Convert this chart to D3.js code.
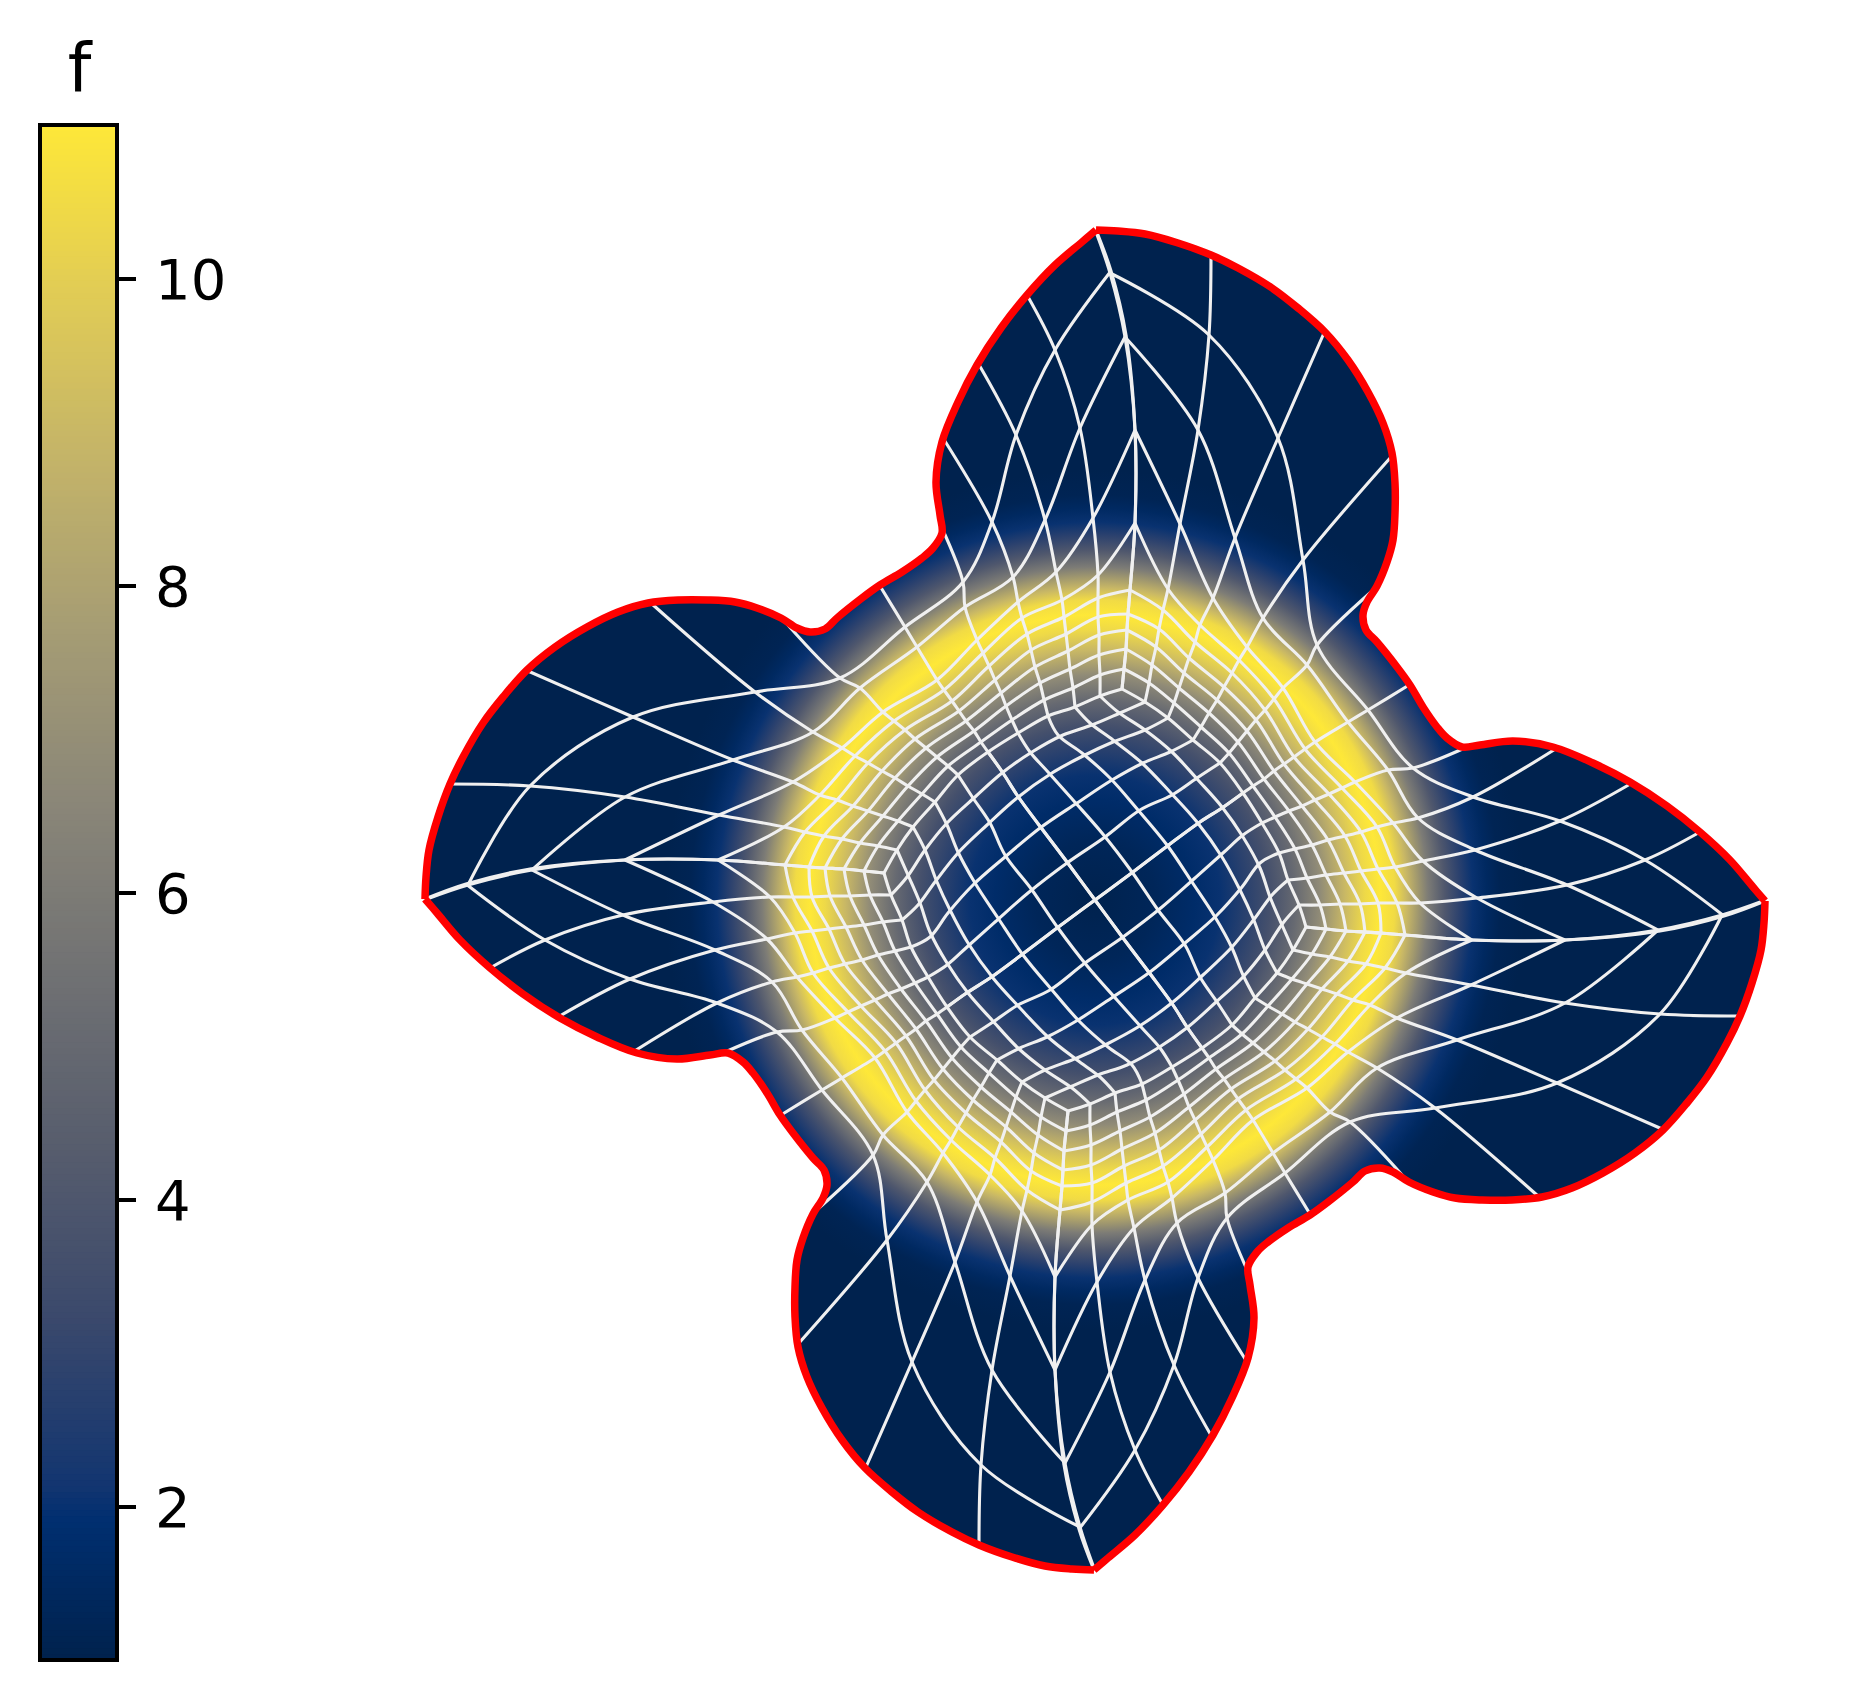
<!DOCTYPE html>
<html>
<head>
<meta charset="utf-8">
<script src="https://cdn.jsdelivr.net/npm/d3@7"></script>
<style>
    html, body { margin: 0; background: #fff; }
    svg { display: block; }
    text { font-family: "DejaVu Sans", sans-serif; }
</style>
</head>
<body>
<div id="chart"></div>
<script>
// Values. The mesh repeats every quarter turn, so one quarter is stored.

// Colorbar
const fRange = [1, 11];
const colorbarTicks = [2, 4, 6, 8, 10];
const colorbarTitle = 'f';
const colorValues = [1, 1.89, 2.11, 3.22, 4.33, 5.44, 6.56, 7.67, 8.78, 9.89, 11];
const colorStops = ['#00224e', '#002f70', '#123570', '#3b496c', '#575d6d', '#707173', '#8a8678', '#a59c74', '#c3b369', '#e1cc55', '#fee838'];

// Radial profile of the field f
const fieldRadius = [0, 60, 100, 125, 150, 175, 200, 225, 250, 270, 285, 300, 312, 333, 350, 365, 378, 392, 405, 430, 700];
const fieldValue = [1, 1.3, 1.7, 2, 2.7, 3.6, 5, 6.8, 9, 10.4, 11, 10.5, 9, 6, 4, 2.8, 2, 1.5, 1.15, 1, 1];

// Outer edge, one quarter: top cusp round to right cusp
const boundary = [[1, 670], [23, 669], [50, 666], [83, 657], [116, 645], [143, 632], [177, 612], [203, 592], [230, 568],
    [253, 540], [273, 508], [288, 477], [297, 447], [300, 417], [300, 387], [298, 360], [292, 338], [282, 314], [272, 298],
    [268, 285], [271, 270], [282, 258], [302, 233], [315, 215], [328, 193], [342, 173], [352, 162], [367, 153], [385, 155],
    [418, 159], [458, 153], [498, 137], [535, 118], [572, 94], [605, 68], [635, 40], [658, 13], [670, -1]];

// Outer block, ring by ring from the centre block out to the edge
const ring0 = [[27, 211], [50, 198], [73, 182], [98, 160], [125, 137], [148, 107], [167, 77], [184, 47], [193, 20], [204, -5], [211, -27]];
const ring1 = [[29, 231], [54, 217], [79, 197], [106, 173], [134, 147], [158, 114], [180, 83], [200, 51], [212, 22], [225, -5], [231, -29]];
const ring2 = [[31, 251], [57, 235], [84, 212], [114, 187], [143, 158], [169, 121], [194, 89], [217, 55], [231, 25], [245, -4], [251, -31]];
const ring3 = [[32, 270], [61, 253], [89, 227], [122, 200], [152, 169], [179, 129], [207, 94], [233, 60], [249, 27], [265, -4], [270, -32]];
const ring4 = [[33, 286], [64, 271], [94, 242], [129, 213], [161, 180], [189, 136], [220, 100], [250, 64], [266, 29], [283, -3], [286, -33]];
const ring5 = [[35, 310], [68, 290], [100, 258], [137, 227], [170, 190], [199, 143], [234, 106], [266, 68], [283, 31], [302, -3], [310, -35]];
const ring6 = [[40, 377], [73, 311], [105, 275], [144, 240], [179, 201], [210, 151], [247, 112], [282, 73], [300, 33], [325, -3], [377, -40]];
const ring7 = [[40, 470], [85, 376], [118, 302], [152, 253], [188, 212], [220, 158], [260, 118], [298, 77], [328, 39], [382, 2], [470, -40]];
const ring8 = [[30, 563], [103, 470], [140, 362], [168, 282], [212, 235], [253, 178], [293, 130], [323, 82], [380, 50], [472, 15], [565, -31]];
const ring9 = [[15, 627], [114, 565], [183, 462], [208, 340], [222, 255], [273, 190], [318, 132], [378, 103], [465, 79], [550, 40], [629, -16]];
const ring10 = [[1, 668], [116, 645], [229, 567], [296, 443], [276, 308], [314, 215], [372, 153], [462, 152], [537, 117], [605, 68], [670, -1]];

// Centre block, one family of lines (the other is the same family turned)
const centre1 = [[-204, 5], [-188, 23], [-170, 50], [-148, 77], [-120, 103], [-93, 127], [-63, 148], [-32, 165], [-3, 175], [25, 187], [50, 198]];
const centre2 = [[-193, -20], [-177, -5], [-160, 18], [-137, 47], [-108, 75], [-78, 102], [-43, 127], [-10, 145], [18, 158], [50, 170], [73, 182]];
const centre3 = [[-184, -47], [-165, -37], [-147, -13], [-122, 15], [-90, 43], [-55, 72], [-18, 97], [17, 120], [48, 137], [75, 148], [98, 160]];
const centre4 = [[-167, -77], [-148, -65], [-128, -47], [-100, -22], [-67, 7], [-28, 37], [10, 63], [45, 90], [77, 105], [102, 122], [125, 137]];
const centre5 = [[-148, -107], [-127, -92], [-105, -78], [-75, -56], [-38, -28], [0, 0], [38, 28], [75, 56], [105, 78], [127, 92], [148, 107]];

const rings = [ring0, ring1, ring2, ring3, ring4, ring5, ring6, ring7, ring8, ring9, ring10];
const centreLines = [centre1, centre2, centre3, centre4, centre5];
const spokes = d3.range(11).map(k => rings.map(r => r[k]));

const width = 1875;
const height = 1701;

const svg = d3.select('#chart')
    .append('svg')
    .attr('width', width)
    .attr('height', height);

// Scales
const x = d3.scaleLinear().domain([-1095, 780]).range([0, width]);
const y = d3.scaleLinear().domain([900, -801]).range([0, height]);
const color = d3.scaleLinear().domain(colorValues).range(colorStops);

// Quarter turns, clockwise
const turn = (p, q) => {
    let [px, py] = p;
    for (let i = 0; i < q; i++) [px, py] = [py, -px];
    return [px, py];
};
const quarters = [0, 1, 2, 3];

const line = d3.line()
    .x(d => x(d[0]))
    .y(d => y(d[1]))
    .curve(d3.curveCatmullRom.alpha(0.5));

const outline = quarters.map(q => line(boundary.map(p => turn(p, q)))).join(' ');
// Joined into one closed shape for the fill
const closedOutline = 'M' + quarters.map(q => line(boundary.map(p => turn(p, q))).slice(1)).join('L') + 'Z';

const defs = svg.append('defs');

// Field as a radial gradient
const field = defs.append('radialGradient')
    .attr('id', 'field')
    .attr('gradientUnits', 'userSpaceOnUse')
    .attr('cx', x(0))
    .attr('cy', y(0))
    .attr('r', x(d3.max(fieldRadius)) - x(0));
field.selectAll('stop')
    .data(fieldRadius)
    .enter().append('stop')
    .attr('offset', d => d / d3.max(fieldRadius))
    .attr('stop-color', (d, i) => color(fieldValue[i]));

// Filled domain
svg.append('path')
    .attr('d', closedOutline)
    .attr('fill', 'url(#field)');

// Mesh lines
const mesh = svg.append('g')
    .attr('fill', 'none')
    .attr('stroke', '#f0f0f0')
    .attr('stroke-width', 3.1);

quarters.forEach(q => {
    [...rings.slice(0, 10), ...spokes, ...centreLines].forEach(l => {
        mesh.append('path').attr('d', line(l.map(p => turn(p, q))));
    });
});

// Red edge
svg.append('path')
    .attr('d', outline)
    .attr('fill', 'none')
    .attr('stroke', '#ff0000')
    .attr('stroke-width', 7.5);

// Colorbar
const barLeft = 40;
const barRight = 117;
const fScale = d3.scaleLinear().domain(fRange).range([1660, 125]);

const barSteps = d3.range(fRange[0], fRange[1], (fRange[1] - fRange[0]) / 256);
svg.append('g')
    .selectAll('rect')
    .data(barSteps)
    .enter().append('rect')
    .attr('x', barLeft)
    .attr('width', barRight - barLeft)
    .attr('y', d => fScale(d) - 7)
    .attr('height', 7)
    .attr('fill', d => color(d));

svg.append('rect')
    .attr('x', barLeft)
    .attr('y', 125)
    .attr('width', barRight - barLeft)
    .attr('height', 1660 - 125)
    .attr('fill', 'none')
    .attr('stroke', '#000')
    .attr('stroke-width', 4);

const axis = svg.append('g')
    .attr('transform', `translate(${barRight + 2},0)`)
    .call(d3.axisRight(fScale).tickValues(colorbarTicks).tickSize(17).tickPadding(19));
axis.select('.domain').remove();
axis.selectAll('.tick line').attr('stroke', '#000').attr('stroke-width', 4);
axis.selectAll('.tick text')
    .attr('fill', '#000')
    .attr('dy', '0.36em')
    .style('font-size', '56px')
    .style('font-family', '"DejaVu Sans", sans-serif');

svg.append('text')
    .attr('x', (barLeft + barRight) / 2 + 1)
    .attr('y', 92)
    .attr('text-anchor', 'middle')
    .style('font-size', '67px')
    .text(colorbarTitle);
</script>
</body>
</html>
